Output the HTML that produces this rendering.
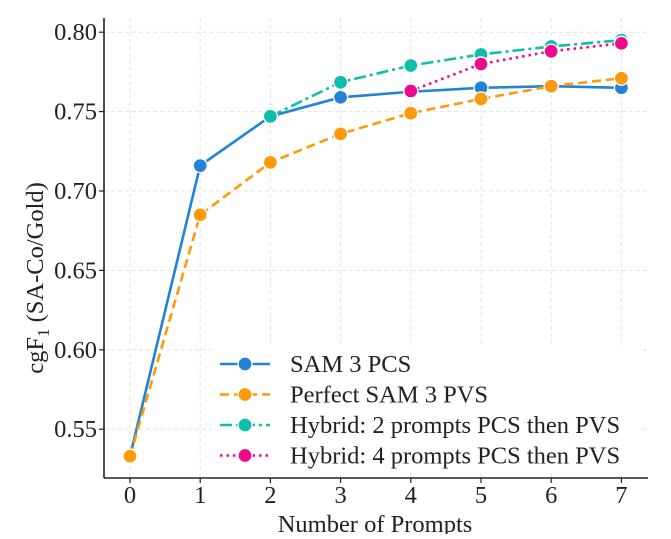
<!DOCTYPE html>
<html><head><meta charset="utf-8"><style>
body{margin:0;background:#fff;}
svg{font-family:"Liberation Serif",serif;}
</style></head><body>
<svg id="chart" width="671" height="534"></svg>
<script>
const categories=[0,1,2,3,4,5,6,7];
const yTicks=[0.55,0.60,0.65,0.70,0.75,0.80];
const yTickLabels=["0.55","0.60","0.65","0.70","0.75","0.80"];
const pcsValues=[0.533,0.716,0.747,0.759,0.7625,0.765,0.766,0.765];
const pvsValues=[0.533,0.685,0.718,0.736,0.749,0.758,0.766,0.771];
const hybrid2X=[2,3,4,5,6,7];
const hybrid2Values=[0.747,0.7685,0.779,0.786,0.791,0.795];
const hybrid4X=[4,5,6,7];
const hybrid4Values=[0.763,0.780,0.788,0.793];
const seriesNames=["SAM 3 PCS","Perfect SAM 3 PVS","Hybrid: 2 prompts PCS then PVS","Hybrid: 4 prompts PCS then PVS"];

const NS="http://www.w3.org/2000/svg";
const svg=document.getElementById('chart');
const X=v=>130+v*70.2;
const Y=v=>191-(v-0.70)*1588;
const FS=24.5;
function el(t,a,p){const e=document.createElementNS(NS,t);for(const k in a)e.setAttribute(k,a[k]);(p||svg).appendChild(e);return e;}

yTicks.forEach((t,i)=>{
  const g=el('line',{x1:104,x2:648,y1:Y(t),y2:Y(t),stroke:'#e3e3e3','stroke-dasharray':'4,3','stroke-width':1});
  
  
  const tx=el('text',{x:97,y:Y(t)+8,'text-anchor':'end','font-size':FS,fill:'#222'});
  tx.textContent=yTickLabels[i];
  
  
  el('line',{x1:99,x2:104,y1:Y(t),y2:Y(t),stroke:'#222','stroke-width':1.2});
});
categories.forEach(c=>{
  const g=el('line',{x1:X(c),x2:X(c),y1:18,y2:478,stroke:'#e3e3e3','stroke-dasharray':'4,3','stroke-width':1});
  
  
  const tx=el('text',{x:X(c),y:503,'text-anchor':'middle','font-size':FS,fill:'#222'});
  tx.textContent=String(c);
  
  
  el('line',{x1:X(c),x2:X(c),y1:478,y2:483,stroke:'#222','stroke-width':1.2});
});
const ls=el('line',{x1:104,x2:104,y1:18,y2:478,stroke:'#222','stroke-width':1.6});


const bs=el('line',{x1:104,x2:648,y1:478,y2:478,stroke:'#222','stroke-width':1.6});



const styles=[
 {c:'#2283d6',d:'',xs:categories,ys:pcsValues,n:'series-sam3-pcs'},
 {c:'#fb9a0a',d:'9,5',xs:categories,ys:pvsValues,n:'series-perfect-pvs'},
 {c:'#0dbfa8',d:'12,4,3,4',xs:hybrid2X,ys:hybrid2Values,n:'series-hybrid-2'},
 {c:'#ec0a8a',d:'2.5,4',xs:hybrid4X,ys:hybrid4Values,n:'series-hybrid-4'}
];
styles.forEach(s=>{
  const pts=s.xs.map((x,i)=>X(x)+','+Y(s.ys[i])).join(' ');
  const pl=el('polyline',{points:pts,fill:'none',stroke:s.c,'stroke-width':2.6,'stroke-dasharray':s.d});
  
  
  s.xs.forEach((x,i)=>{
    const m=el('circle',{cx:X(x),cy:Y(s.ys[i]),r:7,fill:s.c,stroke:'#fff','stroke-width':1.3});
    
    
  });
});

const lg=el('g',{});


el('rect',{x:212,y:344,width:430,height:128,fill:'#fff','fill-opacity':0.85},lg);
styles.forEach((s,i)=>{
  const yy=364+i*30.5;
  const e=el('g',{},lg);
  
  
  el('line',{x1:220,x2:270,y1:yy,y2:yy,stroke:s.c,'stroke-width':2.6,'stroke-dasharray':s.d},e);
  el('circle',{cx:245,cy:yy,r:7,fill:s.c,stroke:'#fff','stroke-width':1.3},e);
  const t=el('text',{x:290,y:yy+8,'font-size':FS,fill:'#222'},e);
  t.textContent=seriesNames[i];
});

const xt=el('text',{x:375,y:532,'text-anchor':'middle','font-size':FS,fill:'#222'});
xt.textContent='Number of Prompts';


const yt=el('text',{x:0,y:0,'text-anchor':'middle','font-size':FS,fill:'#222',transform:'translate(43,278) rotate(-90)'});
yt.innerHTML='cgF<tspan font-size="17" dy="6">1</tspan><tspan dy="-6"> (SA-Co/Gold)</tspan>';


</script>
</body></html>
